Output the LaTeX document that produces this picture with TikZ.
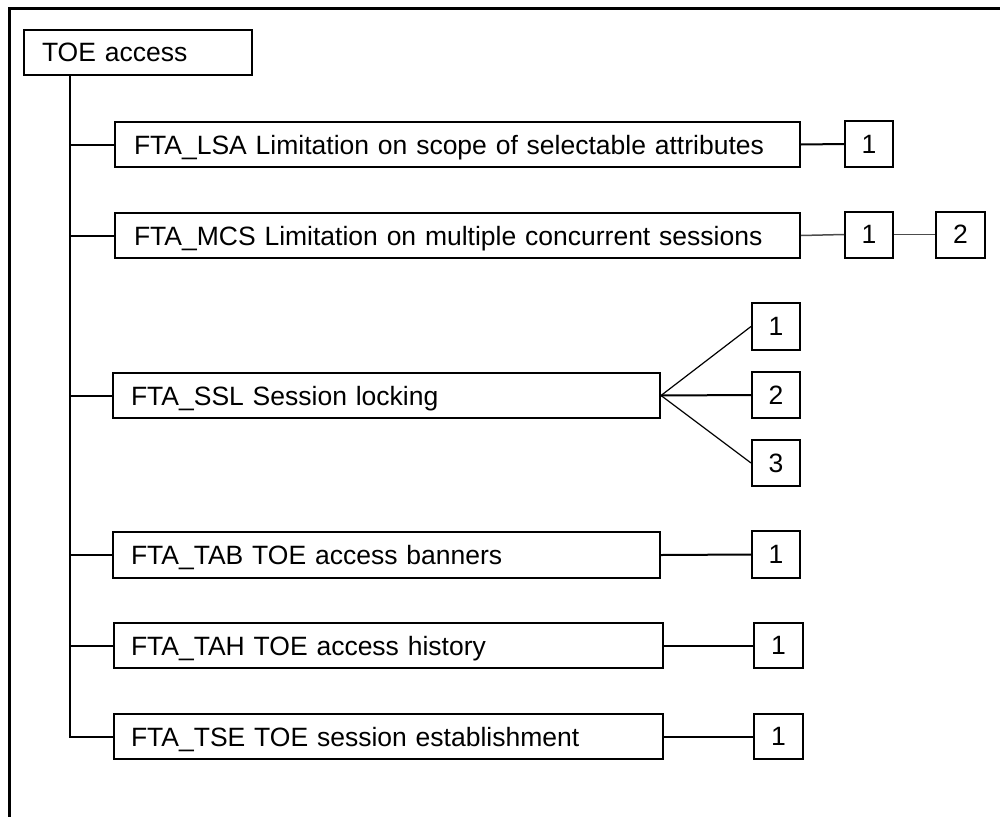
\documentclass[tikz,border=0pt]{standalone}
\usepackage{fontspec}
\setmainfont{Liberation Sans}
\begin{document}
\begin{tikzpicture}[x=1pt,y=-1pt,
  every node/.style={font=\fontsize{26.5}{30}\selectfont},
  lbox/.style={draw, line width=2pt, inner ysep=0pt, minimum height=45pt, align=left, text height=19pt, text depth=0pt},
  nbox/.style={draw, line width=2pt, inner sep=0pt, minimum width=48pt, minimum height=46pt},
  conn/.style={line width=2pt},
  thin conn/.style={line width=1.2pt},
  grey conn/.style={line width=1.5pt, draw=black!70},
  frame/.style={line width=3pt}]
\useasboundingbox (0,0) rectangle (1000,816);
\coordinate (fb) at (9,818);
\coordinate (ftl) at (9,9);
\coordinate (fr) at (1002,9);
\draw[frame] (fb) -- (ftl) -- (fr);

\node[lbox, inner xsep=18pt, text width=192pt] (toe) at (138,52.5) {TOE access};

\node[lbox, inner xsep=19pt, text width=647pt] (lsa) at (457.5,144.5) {FTA\_LSA Limitation on scope of selectable attributes};
\node[nbox] (lsa1) at (869,144) {1};

\node[lbox, inner xsep=19pt, text width=647pt] (mcs) at (457.5,235.5) {FTA\_MCS Limitation on multiple concurrent sessions};
\node[nbox] (mcs1) at (869,234.5) {1};
\node[nbox, minimum width=49pt] (mcs2) at (960.5,234.5) {2};

\node[lbox, inner xsep=18pt, text width=511pt] (ssl) at (386.5,395.5) {FTA\_SSL Session locking};
\node[nbox, minimum height=47pt] (ssl1) at (776,326.5) {1};
\node[nbox] (ssl2) at (776,395) {2};
\node[nbox] (ssl3) at (776,463) {3};

\node[lbox, inner xsep=18pt, text width=511pt, minimum height=46pt] (tab) at (386.5,555) {FTA\_TAB TOE access banners};
\node[nbox, minimum height=47pt] (tab1) at (776,554.5) {1};

\node[lbox, inner xsep=17pt, text width=515pt] (tah) at (388.5,645.5) {FTA\_TAH TOE access history};
\node[nbox, minimum width=49pt, minimum height=45pt] (tah1) at (778.5,645.5) {1};

\node[lbox, inner xsep=17pt, text width=515pt] (tse) at (388.5,736.5) {FTA\_TSE TOE session establishment};
\node[nbox, minimum width=49pt, minimum height=45pt] (tse1) at (778.5,736.5) {1};

% trunk
\coordinate (ttop) at (70,75);
\draw[conn] (toe.south -| ttop) |- (tse.west);
\draw[conn] (lsa.west) -- (lsa.west -| ttop);
\draw[conn] (mcs.west) -- (mcs.west -| ttop);
\draw[conn] (ssl.west) -- (ssl.west -| ttop);
\draw[conn] (tab.west) -- (tab.west -| ttop);
\draw[conn] (tah.west) -- (tah.west -| ttop);

% leaves
\draw[conn] (lsa.east) -- (lsa1.west);
\draw[grey conn] (mcs.east) -- (mcs1.west);
\draw[grey conn] (mcs1.east) -- (mcs2.west);
\draw[thin conn] (ssl.east) -- (ssl1.west);
\draw[conn] (ssl.east) -- (ssl2.west);
\draw[thin conn] (ssl.east) -- (ssl3.west);
\draw[conn] (tab.east) -- (tab1.west);
\draw[conn] (tah.east) -- (tah1.west);
\draw[conn] (tse.east) -- (tse1.west);
\end{tikzpicture}
\end{document}
